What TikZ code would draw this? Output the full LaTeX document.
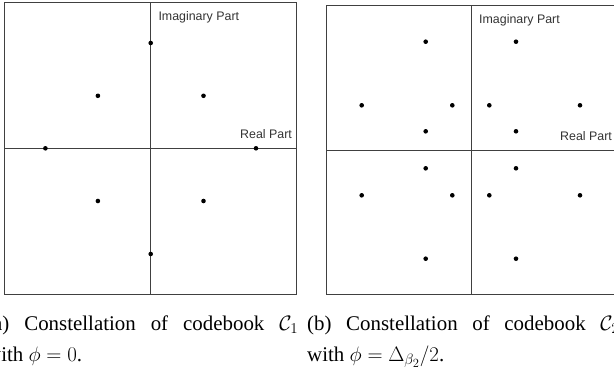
\RequirePackage{fix-cm}
\documentclass[tikz,border=0pt]{standalone}
\usepackage{fontspec}
\setmainfont{Liberation Serif}
\setsansfont{Liberation Sans}
\DeclareMathSizes{20.9}{20.9}{15}{12.5}
\tikzset{
  panelline/.style={draw=black!75, line width=1pt},
  dot/.style={circle, fill=black, draw=none, inner sep=0pt, minimum size=4.6pt},
  axlabel/.style={font=\sffamily\fontsize{12.4}{14}\selectfont, text=black!80, inner sep=0pt, anchor=base west},
  capt/.style={inner sep=0pt, anchor=base west}
}
\begin{document}
\begin{tikzpicture}[x=1pt,y=-1pt]
\useasboundingbox (0,0) rectangle (614,367);
% ---- panel (a)
\draw[panelline] (4.3,2.7) rectangle (296.3,294.3);
\draw[panelline] (150.7,2.7) -- (150.7,294.3);
\draw[panelline] (4.3,148.3) -- (296.3,148.3);
\begin{scope}[shift={(150.7,148.3)}]
\foreach \p [count=\i] in {(0,-105.3),(-52.8,-52.5),(52.8,-52.5),(-105.3,0),(105.3,0),(-52.8,52.7),(52.8,52.7),(0,105.7)}
  \node[dot] (l\i) at \p {};
\end{scope}
\node[axlabel] (imA) at (158.3,20.5) {Imaginary Part};
\node[axlabel] (reA) at (240,138) {Real Part};
% ---- panel (b)
\draw[panelline] (326.3,5.3) rectangle (615.7,294.3);
\draw[panelline] (471,5.3) -- (471,294.3);
\draw[panelline] (326.3,150) -- (615.7,150);
\begin{scope}[shift={(471,150)}]
\foreach \p [count=\i] in {(-45.3,-108.3),(45,-108.3),(-109.3,-44.7),(-18.7,-44.7),(18.3,-44.7),(109,-44.7),(-45.3,-18.7),(45,-18.7),(-45.3,18.3),(45,18.3),(-109.3,45.3),(-18.7,45.3),(18.3,45.3),(109,45.3),(-45.3,108.7),(45,108.7)}
  \node[dot] (r\i) at \p {};
\end{scope}
\node[axlabel] (imB) at (479,23) {Imaginary Part};
\node[axlabel] (reB) at (560,140.5) {Real Part};
% ---- captions
\node[capt] (capA) at (-14,330.5) {\parbox[t]{312pt}{\fontsize{20.9}{30.5}\selectfont (a) Constellation of codebook $\mathcal{C}_1$\linebreak with $\phi = 0$.}};
\node[capt] (capB) at (307,330.5) {\parbox[t]{312pt}{\fontsize{20.9}{30.5}\selectfont (b) Constellation of codebook $\mathcal{C}_2$\linebreak with $\phi = \Delta_{\beta_2}/2$.}};
\end{tikzpicture}
\end{document}
